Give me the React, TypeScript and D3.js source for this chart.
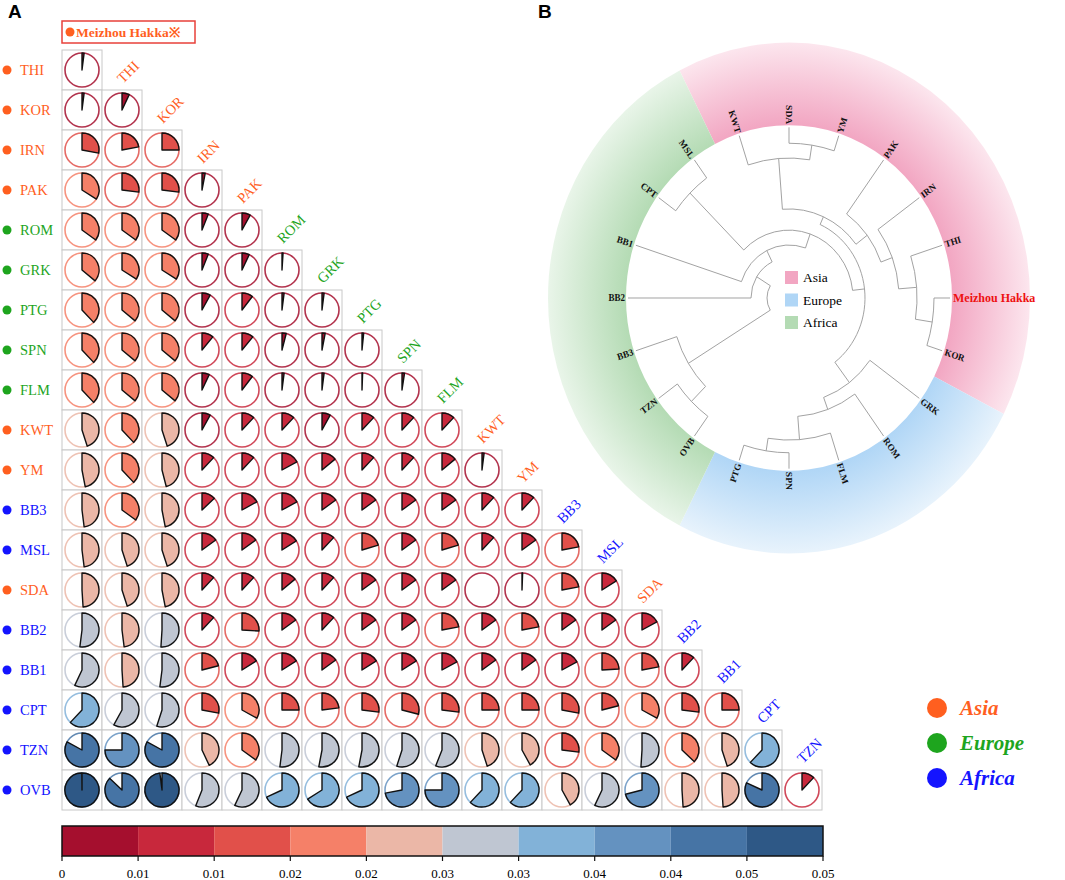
import React from 'react';
import * as d3 from 'd3';

// population order of the matrix (columns = first 19, rows = last 19)
const populations = ['Meizhou Hakka', 'THI', 'KOR', 'IRN', 'PAK', 'ROM', 'GRK', 'PTG', 'SPN', 'FLM', 'KWT', 'YM', 'BB3', 'MSL', 'SDA', 'BB2', 'BB1', 'CPT', 'TZN', 'OVB'];
const popRegion = ['Asia', 'Asia', 'Asia', 'Asia', 'Asia', 'Europe', 'Europe', 'Europe', 'Europe', 'Europe', 'Asia', 'Asia', 'Africa', 'Africa', 'Asia', 'Africa', 'Africa', 'Africa', 'Africa', 'Africa'];
const regionNames = ['Asia', 'Europe', 'Africa'];
const regionColors = ['#ff5f1f', '#1ea51e', '#1414ff'];

// pairwise Fst, row i = populations[i + 1], columns 0..i
const fstRows = [
  [0.001],
  [0.001, 0.0035],
  [0.014, 0.011, 0.0125],
  [0.017, 0.0135, 0.0135, 0.0015],
  [0.0175, 0.0175, 0.0175, 0.003, 0.004],
  [0.018, 0.017, 0.017, 0.003, 0.0035, 0.0005],
  [0.019, 0.018, 0.018, 0.004, 0.0052, 0.001, 0.001],
  [0.019, 0.018, 0.018, 0.0055, 0.0055, 0.002, 0.0015, 0.0008],
  [0.019, 0.018, 0.018, 0.0035, 0.0052, 0.001, 0.001, 0.0003, 0.0012],
  [0.0225, 0.019, 0.0225, 0.004, 0.006, 0.006, 0.004, 0.006, 0.006, 0.006],
  [0.0235, 0.019, 0.023, 0.006, 0.006, 0.0085, 0.007, 0.006, 0.006, 0.007, 0.001],
  [0.024, 0.0175, 0.0235, 0.0065, 0.0085, 0.0085, 0.0075, 0.0075, 0.0075, 0.0075, 0.006, 0.006],
  [0.024, 0.0225, 0.0225, 0.0075, 0.0075, 0.008, 0.006, 0.0102, 0.0075, 0.0102, 0.006, 0.0075, 0.011],
  [0.0245, 0.0225, 0.0235, 0.006, 0.006, 0.007, 0.006, 0.0075, 0.0075, 0.0075, 0, 0.0003, 0.011, 0.008],
  [0.026, 0.024, 0.0255, 0.006, 0.013, 0.0075, 0.006, 0.0075, 0.0075, 0.011, 0.0075, 0.011, 0.0075, 0.0075, 0.0085],
  [0.0285, 0.0245, 0.026, 0.0105, 0.008, 0.008, 0.0075, 0.008, 0.008, 0.0085, 0.0075, 0.0075, 0.0085, 0.012, 0.011, 0.006],
  [0.031, 0.029, 0.0275, 0.014, 0.0165, 0.0125, 0.0115, 0.0135, 0.0145, 0.0135, 0.0125, 0.0125, 0.014, 0.0105, 0.0165, 0.0135, 0.0125],
  [0.0415, 0.0375, 0.0415, 0.0215, 0.0175, 0.026, 0.0265, 0.0265, 0.0275, 0.028, 0.0225, 0.021, 0.0135, 0.0175, 0.0255, 0.0185, 0.0225, 0.031],
  [0.0499, 0.0435, 0.049, 0.028, 0.0285, 0.034, 0.033, 0.034, 0.036, 0.0375, 0.031, 0.031, 0.021, 0.0285, 0.0355, 0.0245, 0.0245, 0.041, 0.006],
];

const binColors = ['#a50f2e', '#c8283c', '#e1504a', '#f58068', '#ebb7a7', '#bfc6d2', '#82b2d8', '#6492c0', '#4674a5', '#2e5886'];
const cbTickLabels = ['0', '0.01', '0.01', '0.02', '0.02', '0.03', '0.03', '0.04', '0.04', '0.05', '0.05'];

// dendrogram: leaves clockwise, then [node, parent, node radius]
const leafOrder = ['OVB', 'TZN', 'BB3', 'BB2', 'BB1', 'CPT', 'MSL', 'KWT', 'SDA', 'YM', 'PAK', 'IRN', 'THI', 'Meizhou Hakka', 'KOR', 'GRK', 'ROM', 'FLM', 'SPN', 'PTG'];
const treeNodes: [string, string, number][] = [
  ['root', '', 22],
  ['nB', 'root', 118], ['nTO', 'nB', 138], ['OVB', 'nTO', 0], ['TZN', 'nTO', 0], ['BB3', 'nB', 0],
  ['n2', 'root', 38], ['BB2', 'n2', 0],
  ['n3', 'n2', 50], ['BB1', 'n3', 0],
  ['n4', 'n3', 64], ['nL', 'n4', 140], ['CPT', 'nL', 0], ['MSL', 'nL', 0],
  ['n5', 'n4', 76], ['n6', 'n5', 84],
  ['nT', 'n6', 132], ['KWT', 'nT', 0], ['nSY', 'nT', 146], ['SDA', 'nSY', 0], ['YM', 'nSY', 0],
  ['nA', 'n6', 98], ['PAK', 'nA', 0], ['nA2', 'nA', 110], ['IRN', 'nA2', 0], ['nA3', 'nA2', 128], ['THI', 'nA3', 0],
  ['nA4', 'nA3', 145], ['Meizhou Hakka', 'nA4', 0], ['KOR', 'nA4', 0],
  ['nE', 'n5', 100], ['GRK', 'nE', 0], ['nE2', 'nE', 112], ['ROM', 'nE2', 0], ['nE3', 'nE2', 134], ['FLM', 'nE3', 0],
  ['nE4', 'nE3', 146], ['SPN', 'nE4', 0], ['PTG', 'nE4', 0],
];
const ringColors = [['#f2a6c2', '#fce6ee'], ['#b0d6f6', '#e8f3fc'], ['#b4dbb4', '#e9f5e9']];

const serif = "'Liberation Serif', 'Times New Roman', serif";

const rad = (deg: number) => (deg * Math.PI) / 180;
const polar = (r: number, deg: number): [number, number] => [r * Math.sin(rad(deg)), -r * Math.cos(rad(deg))];

const Matrix: React.FC = () => {
  const cols = populations.slice(0, 19);
  const rows = populations.slice(1);
  const x = d3.scaleBand<string>().domain(cols).range([62, 822]);
  const y = d3.scaleBand<string>().domain(rows).range([50, 810]);
  const bw = x.bandwidth();
  const color = d3.scaleQuantize<string>().domain([0, 0.05]).range(binColors);
  const frac = d3.scaleLinear().domain([0, 0.05]).range([0, 2 * Math.PI]).clamp(true);
  const pr = 17;
  const wedge = d3.arc<number>().innerRadius(0).outerRadius(pr).startAngle(0).endAngle(v => frac(v));
  const cb = d3.scaleLinear().domain([0, 0.05]).range([62, 823]);
  const edges = [0, ...color.thresholds(), 0.05];
  const regColor = (p: string) => regionColors[regionNames.indexOf(popRegion[populations.indexOf(p)])];

  return (
    <g>
      <text x={8} y={18} fontFamily="Arial, 'Liberation Sans', sans-serif" fontWeight="bold" fontSize={19}>A</text>
      <rect x={62} y={21} width={133} height={22} fill="none" stroke="#e8403a" strokeWidth={1.5} />
      <circle cx={70} cy={32} r={4.5} fill={regionColors[0]} />
      <text x={76} y={37} fontFamily={serif} fontWeight="bold" fontSize={13.5} fill={regionColors[0]}>Meizhou Hakka※</text>

      {rows.map(rp => (
        <g key={'rl' + rp}>
          <circle cx={7} cy={(y(rp) as number) + bw / 2} r={4.5} fill={regColor(rp)} />
          <text x={20} y={(y(rp) as number) + bw / 2 + 5} fontFamily={serif} fontSize={14.5} fill={regColor(rp)}>{rp}</text>
        </g>
      ))}

      {cols.slice(1).map(cp => {
        const tx = (x(cp) as number) + 21;
        const ty = (y(cp) as number) + 34;
        return (
          <text key={'cl' + cp} transform={`translate(${tx},${ty}) rotate(-45)`} fontFamily={serif} fontSize={14.5} fill={regColor(cp)}>{cp}</text>
        );
      })}

      {fstRows.map((vals, i) =>
        vals.map((v, j) => {
          const cx = (x(cols[j]) as number);
          const cy = (y(rows[i]) as number);
          return (
            <g key={`c${i}-${j}`} transform={`translate(${cx},${cy})`}>
              <rect width={bw} height={bw} fill="white" stroke="#c8c8c8" strokeWidth={1} />
              <circle cx={bw / 2} cy={bw / 2} r={pr} fill="white" stroke={color(v)} strokeWidth={1.6} strokeOpacity={0.85} />
              {v > 0 && (
                <path d={wedge(v) as string} transform={`translate(${bw / 2},${bw / 2})`} fill={color(v)} stroke="#111" strokeWidth={1.4} strokeLinejoin="round" />
              )}
            </g>
          );
        })
      )}

      {binColors.map((c, k) => (
        <rect key={'cb' + k} x={cb(edges[k])} y={826} width={cb(edges[k + 1]) - cb(edges[k])} height={30} fill={c} />
      ))}
      <rect x={62} y={826} width={761} height={30} fill="none" stroke="#111" strokeWidth={1.5} />
      {cbTickLabels.map((t, k) => {
        const tx = cb(edges[0] + (k * 0.05) / 10);
        return (
          <g key={'tk' + k}>
            <line x1={tx} x2={tx} y1={856} y2={861} stroke="#111" strokeWidth={1.2} />
            <text x={tx} y={878} textAnchor="middle" fontFamily={serif} fontSize={13}>{t}</text>
          </g>
        );
      })}

      {regionNames.map((rn, k) => (
        <g key={'lg' + rn}>
          <circle cx={937} cy={708 + k * 35} r={10} fill={regionColors[k]} />
          <text x={960} y={715 + k * 35} fontFamily={serif} fontWeight="bold" fontStyle="italic" fontSize={21} fill={regionColors[k]}>{rn}</text>
        </g>
      ))}
    </g>
  );
};

const Dendrogram: React.FC = () => {
  const cx = 789, cy = 298, sy = 1.06;
  const innerR = 163, outerR = 241, leafR = 161, labelR = 164;
  const step = 360 / leafOrder.length;
  const start = 216;
  const leafAngle = new Map(leafOrder.map((l, i) => [l, start + i * step]));

  const root = d3.stratify<[string, string, number]>()
    .id(d => d[0])
    .parentId(d => (d[1] === '' ? null : d[1]))(treeNodes);

  const ang = new Map<string, number>();
  root.eachAfter(n => {
    if (!n.children) ang.set(n.id as string, leafAngle.get(n.id as string) as number);
    else {
      const a = n.children.map(c => ang.get(c.id as string) as number);
      ang.set(n.id as string, ((d3.min(a) as number) + (d3.max(a) as number)) / 2);
    }
  });

  const lines: string[] = [];
  root.each(n => {
    if (!n.children) return;
    const r = n.data[2];
    const a = n.children.map(c => ang.get(c.id as string) as number);
    const a1 = d3.min(a) as number, a2 = d3.max(a) as number;
    const p = d3.path();
    const [sx, sy0] = polar(r, a1);
    p.moveTo(sx, sy0);
    p.arc(0, 0, r, rad(a1 - 90), rad(a2 - 90));
    n.children.forEach(c => {
      const ca = ang.get(c.id as string) as number;
      const cr = c.children ? c.data[2] : leafR;
      const [x0, y0] = polar(r, ca);
      const [x1, y1] = polar(cr, ca);
      p.moveTo(x0, y0);
      p.lineTo(x1, y1);
    });
    lines.push(p.toString());
  });

  // ring sectors from contiguous leaf groups
  const sectors = regionNames.map(rn => {
    const idx = leafOrder.map((l, i) => (popRegion[populations.indexOf(l)] === rn ? i : -1)).filter(i => i >= 0);
    return { rn, a1: start + (d3.min(idx) as number) * step - step / 2, a2: start + (d3.max(idx) as number) * step + step / 2 };
  });
  const ringArc = d3.arc<{ a1: number; a2: number }>()
    .innerRadius(innerR).outerRadius(outerR)
    .startAngle(d => rad(d.a1)).endAngle(d => rad(d.a2));

  return (
    <g>
      <text x={538} y={18} fontFamily="Arial, 'Liberation Sans', sans-serif" fontWeight="bold" fontSize={19}>B</text>
      <defs>
        {sectors.map((s, k) => (
          <radialGradient key={'gr' + k} id={'ring' + k} gradientUnits="userSpaceOnUse" cx={0} cy={0} r={outerR}>
            <stop offset={innerR / outerR} stopColor={ringColors[k][0]} />
            <stop offset={1} stopColor={ringColors[k][1]} />
          </radialGradient>
        ))}
      </defs>
      <g transform={`translate(${cx},${cy}) scale(1,${sy})`}>
        {sectors.map((s, k) => (
          <path key={'sec' + k} d={ringArc(s) as string} fill={`url(#ring${k})`} />
        ))}
        {lines.map((d, k) => (
          <path key={'ln' + k} d={d} fill="none" stroke="#9a9a9a" strokeWidth={0.9} />
        ))}
        {leafOrder.map(l => {
          const a = leafAngle.get(l) as number;
          const b = ((a % 360) + 360) % 360;
          const flip = b > 180.5 || b < 0.5;
          const isMz = l === 'Meizhou Hakka';
          return (
            <text key={'lb' + l}
              transform={`rotate(${a - 90}) translate(${labelR},0)${flip ? ' rotate(180)' : ''}`}
              textAnchor={flip ? 'end' : 'start'} dy="0.35em"
              fontFamily={serif} fontWeight="bold" fontSize={isMz ? 12 : 9} fill={isMz ? '#ee1111' : '#111'}>{l}</text>
          );
        })}
      </g>
      {regionNames.map((rn, k) => (
        <g key={'dl' + rn}>
          <rect x={785} y={271 + k * 22.5} width={13} height={13} fill={ringColors[k][0]} />
          <text x={803} y={282 + k * 22.5} fontFamily={serif} fontSize={13.5}>{rn}</text>
        </g>
      ))}
    </g>
  );
};

export default function App() {
  return (
    <svg width={1065} height={880} style={{ position: 'absolute', left: 0, top: 0, background: 'white' }}>
      <Matrix />
      <Dendrogram />
    </svg>
  );
}
